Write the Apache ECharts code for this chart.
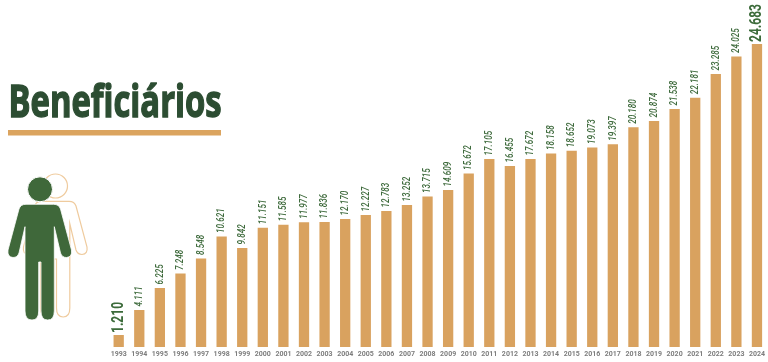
<!DOCTYPE html>
<html><head><meta charset="utf-8">
<style>html,body{margin:0;padding:0;background:#fff}#c{width:768px;height:362px}</style>
<script src="https://cdn.jsdelivr.net/npm/echarts@6/dist/echarts.min.js"></script>
</head><body><div id="c"></div>
<script>
const years = ['1993','1994','1995','1996','1997','1998','1999','2000','2001','2002','2003','2004','2005','2006','2007','2008','2009','2010','2011','2012','2013','2014','2015','2016','2017','2018','2019','2020','2021','2022','2023','2024'];
const printedValues = ['1.210','4.111','6.225','7.248','8.548','10.621','9.842','11.151','11.585','11.977','11.836','12.170','12.227','12.783','13.252','13.715','14.609','15.672','17.105','16.455','17.672','18.158','18.652','19.073','19.397','20.180','20.874','21.538','22.181','23.285','24.025','24.683'];
// The source's bars are not strictly proportional to their printed numbers; these are the bar heights as drawn.
const barHeights = [12,37,59,73.5,88.5,110.5,99,119.3,122.3,124.7,125,128,132,136,142,150.5,157,173.5,188,181,188,193.5,196.3,199.5,202.7,219.7,226,238,249.3,273,290.5,303];
const emphasised = ['1993','2024'];
const person = 'M26,204.3 L53.5,204.3 Q59,204.3 60.5,209 L71.5,250 Q72.5,257 66.5,257.5 Q62,257.5 60.5,253 L54.3,226.7 L54.3,311 Q54.3,320 47.7,320 Q41,320 41,311 L41,262 L38.7,262 L38.7,311 Q38.7,320 32,320 Q25,320 25,311 L25,226.7 L19,253 Q17.5,257.5 13,257.5 Q7,257 8,250 L19,209 Q20.5,204.3 26,204.3 Z';
echarts.graphic.registerShape('person', echarts.graphic.extendPath(person, {}));
const chart = echarts.init(document.getElementById('c'), null, {renderer:'canvas'});
chart.setOption({
  animation:false,
  backgroundColor:'#fff',
  grid:{left:108.4,right:0.6,top:0,bottom:15},
  xAxis:{type:'category',data:years,axisLine:{show:false},axisTick:{show:false},
    axisLabel:{interval:0,margin:4,fontFamily:'Roboto',fontSize:7,fontWeight:'bold',color:'#7d7d7d'}},
  yAxis:{type:'value',min:0,max:347,show:false},
  series:[
   {type:'bar',barWidth:10.3,itemStyle:{color:'#d9a25f'},data:barHeights},
   {type:'custom',silent:true,data:barHeights.map((h,i)=>[i,h]),
    renderItem:(params,api)=>{
      const i=api.value(0), p=api.coord([i,api.value(1)]), big=emphasised.includes(years[i]);
      return {type:'text',x:p[0],y:p[1]-(big?2:3.5),rotation:Math.PI/2,scaleX:big?0.75:0.74,
        style:{text:printedValues[i],align:'left',verticalAlign:'middle',fill:big?'#3c6b3a':'#3f6b3d',
          font:(big?'bold 16px':'italic 500 11px')+' Roboto'}};
    }}
  ],
  graphic:[
    {type:'text',x:8.5,y:82,scaleX:0.745,style:{text:'Beneficiários',align:'left',verticalAlign:'top',font:'bold 44px "Open Sans"',fill:'#2c4d32',stroke:'#2c4d32',lineWidth:1.4}},
    {type:'rect',shape:{x:8,y:130,width:213,height:5.5},style:{fill:'#dba45f'}},
    {type:'circle',shape:{cx:55.5,cy:186,r:12},style:{fill:'#fff',stroke:'#efcb9e',lineWidth:1.2}},
    {type:'person',x:15.5,y:-3,style:{fill:'#fff',stroke:'#efcb9e',lineWidth:1.2}},
    {type:'circle',shape:{cx:40,cy:189.3,r:12.5},style:{fill:'#3f683a',stroke:'#fff',lineWidth:1}},
    {type:'person',style:{fill:'#3f683a',stroke:'#fff',lineWidth:0.8}}
  ]
});
</script></body></html>
